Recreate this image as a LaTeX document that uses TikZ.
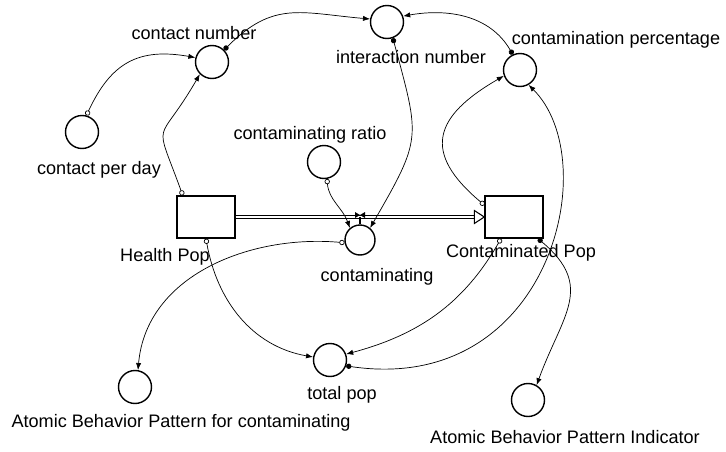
\documentclass[tikz,border=0pt]{standalone}
\usepackage{fontspec}
\setmainfont{Liberation Sans}
\usetikzlibrary{calc,arrows.meta}

\tikzset{
  aux/.style={draw, circle, line width=0.8pt, minimum size=0.66cm, inner sep=0pt},
  stock/.style={draw, rectangle, line width=0.8pt, minimum width=1.16cm, minimum height=0.84cm, inner sep=0pt},
  lbl/.style={font=\fontsize{10.3}{12}\selectfont, inner sep=0pt},
  lnk/.style={{Circle[open,length=3pt]}-{Latex[length=4pt,width=3pt]}, line width=0.4pt},
  lnkf/.style={{Circle[length=3pt]}-{Latex[length=4pt,width=3pt]}, line width=0.4pt},
  pipe/.style={double, double distance=0.8pt, line width=0.8pt}
}

\begin{document}
\begin{tikzpicture}[x=0.02cm,y=0.02cm]
    \useasboundingbox (0,0) rectangle (726,451);

    % stocks
    \node[stock] (hpop) at (206,234) {};
    \node[stock] (cpop) at (514,234) {};
    \node[lbl] (hpop-l) at (165,194) {Health Pop};
    \node[lbl] (cpop-l) at (521,198) {Contaminated Pop};

    % auxiliaries
    \node[aux] (cpd)    at (82,319)  {};
    \node[aux] (cn)     at (212,389) {};
    \node[aux] (inum)   at (387,429) {};
    \node[aux] (cperc)  at (520,381) {};
    \node[aux] (cratio) at (324,289) {};
    \node[aux] (tpop)   at (330,91)  {};
    \node[aux] (abpc)   at (135,64)  {};
    \node[aux] (abpi)   at (528,51)  {};
    \node[aux, minimum size=0.6cm] (cing) at (360,211) {};

    \node[lbl] (cpd-l)    at (99,281)  {contact per day};
    \node[lbl] (cn-l)     at (194,418) {contact number};
    \node[lbl] (inum-l)   at (411,394) {interaction number};
    \node[lbl] (cperc-l)  at (616,411) {contamination percentage};
    \node[lbl] (cratio-l) at (310,316) {contaminating ratio};
    \node[lbl] (cing-l)   at (377,174) {contaminating};
    \node[lbl] (tpop-l)   at (342,56)  {total pop};
    \node[lbl] (abpc-l)   at (181,28)  {Atomic Behavior Pattern for contaminating};
    \node[lbl] (abpi-l)   at (565,14)  {Atomic Behavior Pattern Indicator};

    % the flow
    \draw[pipe] (hpop.east) -- ($(cpop.west)+(-10,0)$);
    \draw[fill=white, line width=0.6pt] (cpop.west) -- ++(-10,6.5) -- ++(0,-13) -- cycle;
    \coordinate (valve) at (cing.north |- hpop.east);
    \draw[line width=0.8pt] (cing.north) -- (valve);
    \fill ($(valve)+(-5,5)$) -- ++(10,-6) -- ++(0,6) -- ++(-10,-6) -- cycle;

    % connectors
    \draw[lnk]  (cpd.75) to[out=65,in=170,looseness=1.2] (cn.165);
    \draw[lnk]  (hpop.137) to[out=110,in=240,looseness=1.8] (cn.225);
    \draw[lnkf] (cn.45) to[out=45,in=175,looseness=1.2] (inum.170);
    \draw[lnkf] (cperc.115) to[out=120,in=10] (inum.20);
    \draw[lnkf] (inum.-70) to[out=-75,in=60,looseness=1.4] (cing.50);
    \draw[lnk]  (cratio.-80) to[out=-85,in=110] (cing.130);
    \draw[lnk]  (cpop.158) to[out=140,in=210,looseness=1.6] (cperc.200);
    \draw[lnkf] (tpop.-20) .. controls (550,55) and (605,290) .. (cperc.-60);
    \draw[lnk]  (cpop.239) to[out=-120,in=15] (tpop.20);
    \draw[lnk]  (hpop.-90) to[out=-80,in=170] (tpop.170);
    \draw[lnk]  (cing.190) to[out=175,in=85] (abpc.80);
    \draw[lnkf] (cpop.-42) to[out=-40,in=70,looseness=1.3] (abpi.60);
\end{tikzpicture}
\end{document}
